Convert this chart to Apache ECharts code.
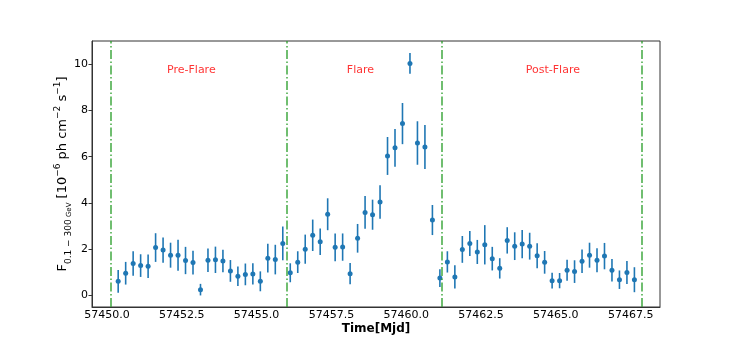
<!DOCTYPE html>
<html>
<head>
<meta charset="utf-8">
<script src="https://cdn.jsdelivr.net/npm/echarts@6/dist/echarts.min.js"></script>
<style>
  html, body { margin: 0; padding: 0; background: #fff; }
  #lightCurve { width: 734px; height: 346px; }
</style>
</head>
<body>
<div id="lightCurve"></div>
<script>
// Light curve bins (MJD, bin centres)
var times = [
    57450.375, 57450.625, 57450.875, 57451.125, 57451.375, 57451.625, 57451.875, 57452.125,
    57452.375, 57452.625, 57452.875, 57453.125, 57453.375, 57453.625, 57453.875, 57454.125,
    57454.375, 57454.625, 57454.875, 57455.125, 57455.375, 57455.625, 57455.875, 57456.125,
    57456.375, 57456.625, 57456.875, 57457.125, 57457.375, 57457.625, 57457.875, 57458.125,
    57458.375, 57458.625, 57458.875, 57459.125, 57459.375, 57459.625, 57459.875, 57460.125,
    57460.375, 57460.625, 57460.875, 57461.125, 57461.375, 57461.625, 57461.875, 57462.125,
    57462.375, 57462.625, 57462.875, 57463.125, 57463.375, 57463.625, 57463.875, 57464.125,
    57464.375, 57464.625, 57464.875, 57465.125, 57465.375, 57465.625, 57465.875, 57466.125,
    57466.375, 57466.625, 57466.875, 57467.125, 57467.375, 57467.625
];

// Flux, 10^-6 ph cm^-2 s^-1
var flux = [
    0.61, 0.96, 1.38, 1.29, 1.26, 2.07, 1.96, 1.74, 1.74, 1.51, 1.42, 0.25,
    1.52, 1.54, 1.49, 1.06, 0.83, 0.91, 0.93, 0.61, 1.61, 1.55, 2.25,
    0.98, 1.44, 2.00, 2.60, 2.32, 3.51, 2.08, 2.09, 0.94, 2.47, 3.59, 3.49,
    4.04, 6.03, 6.38, 7.43, 10.03, 6.59, 6.42, 3.26,
    0.75, 1.45, 0.80, 1.99, 2.25, 1.88, 2.19, 1.59, 1.17, 2.38, 2.13, 2.22,
    2.13, 1.72, 1.43, 0.64, 0.64, 1.09, 1.03, 1.48, 1.74, 1.52, 1.70, 1.09,
    0.68, 0.99, 0.68
];

// 1 sigma errors
var fluxErr = [
    0.49, 0.49, 0.53, 0.49, 0.51, 0.62, 0.55, 0.54, 0.67, 0.59, 0.51, 0.25,
    0.51, 0.57, 0.49, 0.47, 0.42, 0.47, 0.46, 0.43, 0.62, 0.64, 0.73,
    0.41, 0.47, 0.63, 0.68, 0.57, 0.69, 0.60, 0.59, 0.46, 0.62, 0.71, 0.65,
    0.72, 0.82, 0.82, 0.89, 0.45, 0.94, 0.95, 0.65,
    0.38, 0.46, 0.50, 0.58, 0.54, 0.52, 0.85, 0.51, 0.44, 0.57, 0.60, 0.61,
    0.58, 0.54, 0.49, 0.34, 0.33, 0.45, 0.49, 0.51, 0.54, 0.52, 0.57, 0.49,
    0.40, 0.50, 0.54
];

// Period boundaries and labels
var boundaries = [57450.13, 57456.0, 57461.2, 57467.87];
var periodNames = ['Pre-Flare', 'Flare', 'Post-Flare'];
var periodLabelX = [57452.82, 57458.47, 57464.9];
var periodLabelY = [9.74, 9.74, 9.74];

var xTicks = [57450.0, 57452.5, 57455.0, 57457.5, 57460.0, 57462.5, 57465.0, 57467.5];
var yTicks = [0, 2, 4, 6, 8, 10];

var points = [];
var bars = [];
for (var i = 0; i < times.length; i++) {
    points.push([times[i], flux[i]]);
    bars.push([times[i], flux[i], fluxErr[i]]);
}

var labels = [];
for (var k = 0; k < periodNames.length; k++) {
    labels.push({ name: periodNames[k], value: [periodLabelX[k], periodLabelY[k]] });
}

var font = 'DejaVu Sans';

var chart = echarts.init(document.getElementById('lightCurve'));
var option = {
    animation: false,
    grid: {
        left: 92,
        right: 74,
        top: 41,
        bottom: 39,
        show: true,
        borderColor: '#333',
        borderWidth: 1,
        backgroundColor: 'transparent'
    },
    xAxis: {
        type: 'value',
        min: 57449.5,
        max: 57468.48,
        name: 'Time[Mjd]',
        nameLocation: 'middle',
        nameGap: 16,
        nameMoveOverlap: false,
        nameTextStyle: { color: '#000', fontFamily: font, fontSize: 12, fontWeight: 'bold' },
        axisLine: { show: true, onZero: false, lineStyle: { color: '#333' } },
        axisTick: { show: false },
        splitLine: { show: false },
        axisLabel: {
            customValues: xTicks,
            color: '#000',
            fontFamily: font,
            fontSize: 11,
            margin: 3,
            formatter: function (v) { return v.toFixed(1); }
        }
    },
    yAxis: {
        type: 'value',
        min: -0.5,
        max: 11,
        name: '{m|F}{sub|0.1 \u2212 300}{gev| GeV}{m| [10}{sup|\u22126}{m| ph cm}{sup|\u22122}{m| s}{sup|\u22121}{m|]}',
        nameLocation: 'middle',
        nameRotate: 90,
        nameGap: 19,
        nameMoveOverlap: false,
        nameTextStyle: {
            color: '#000',
            fontFamily: font,
            rich: {
                m: { fontSize: 13, lineHeight: 20, color: '#000', fontFamily: font },
                sup: { fontSize: 9, lineHeight: 10, verticalAlign: 'top', color: '#000', fontFamily: font },
                sub: { fontSize: 9, lineHeight: 8, verticalAlign: 'bottom', color: '#000', fontFamily: font },
                gev: { fontSize: 7, lineHeight: 7, verticalAlign: 'bottom', color: '#000', fontFamily: font }
            }
        },
        axisLine: { show: true, onZero: false, lineStyle: { color: '#333' } },
        axisTick: { show: true, customValues: yTicks, length: 3.5, lineStyle: { color: '#333' } },
        splitLine: { show: false },
        axisLabel: {
            customValues: yTicks,
            color: '#000',
            fontFamily: font,
            fontSize: 11,
            margin: 4
        }
    },
    series: [
        {
            type: 'custom',
            name: 'errors',
            silent: true,
            data: bars,
            encode: { x: 0, y: 1 },
            renderItem: function (params, api) {
                var lo = api.coord([api.value(0), api.value(1) - api.value(2)]);
                var hi = api.coord([api.value(0), api.value(1) + api.value(2)]);
                return {
                    type: 'line',
                    shape: { x1: lo[0], y1: lo[1], x2: hi[0], y2: hi[1] },
                    style: { stroke: '#1f77b4', lineWidth: 1.6 }
                };
            },
            markLine: {
                silent: true,
                symbol: 'none',
                label: { show: false },
                lineStyle: { color: '#2ca02c', width: 1.5, type: [9, 2.5, 1.5, 2.5], opacity: 0.9 },
                data: boundaries.map(function (b) { return { xAxis: b }; })
            }
        },
        {
            type: 'scatter',
            name: 'flux',
            silent: true,
            data: points,
            symbol: 'circle',
            symbolSize: 5,
            itemStyle: { color: '#1f77b4', opacity: 1 }
        },
        {
            type: 'scatter',
            name: 'periods',
            silent: true,
            data: labels,
            symbolSize: 0.1,
            itemStyle: { color: 'transparent' },
            label: {
                show: true,
                position: 'inside',
                formatter: '{b}',
                color: '#ff0000',
                fontFamily: font,
                fontSize: 11
            }
        }
    ]
};
chart.setOption(option);
</script>
</body>
</html>
